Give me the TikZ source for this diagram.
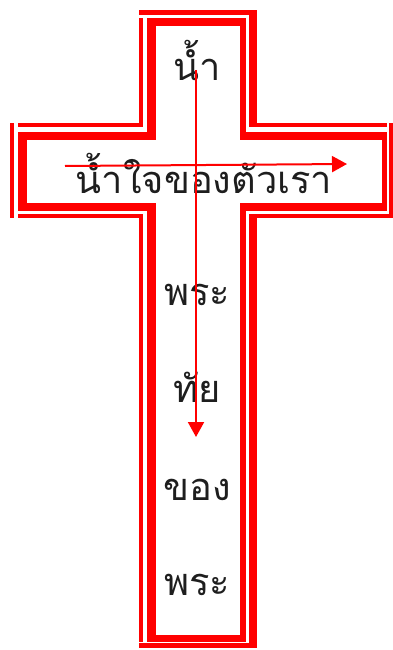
\documentclass[tikz,border=0pt]{standalone}
\usepackage{fontspec}
\newfontfamily\thaifont[Script=Thai]{Loma}
\usetikzlibrary{arrows.meta}
\definecolor{crossred}{HTML}{FF0000}
\definecolor{ink}{HTML}{1E1E1E}
\begin{document}
\begin{tikzpicture}[x=1pt,y=-1pt,
  bar/.style={fill=crossred},
  txt/.style={anchor=base,inner sep=0pt,text=ink,font=\thaifont\fontsize{38}{42}\selectfont},
  arr/.style={draw=crossred,line width=2pt,-{Triangle[length=15pt,width=16pt]}}]
\useasboundingbox (0,0) rectangle (392,650);
% ---- outer line (thin left/top/bottom, thick right) ----
\fill[bar] (139,10) rectangle (257,15);   % stem top
\fill[bar] (139,18) rectangle (143,127);  % stem left upper
\fill[bar] (18,123) rectangle (143,127);  % arm top left
\fill[bar] (10,123) rectangle (14,218);   % arm left
\fill[bar] (18,214) rectangle (143,218);  % arm bottom left
\fill[bar] (139,214) rectangle (143,642); % stem left lower
\fill[bar] (139,643) rectangle (257,648); % stem bottom
\fill[bar] (249,10) rectangle (257,127);  % stem right upper
\fill[bar] (249,123) rectangle (387,127); % arm top right
\fill[bar] (389,123) rectangle (397,218); % arm right
\fill[bar] (249,214) rectangle (397,218); % arm bottom right
\fill[bar] (249,214) rectangle (257,648); % stem right lower
% ---- inner line (thick left/top/bottom, thin right) ----
\fill[bar] (147,18) rectangle (246,26);   % stem top
\fill[bar] (147,18) rectangle (156,140);  % stem left upper
\fill[bar] (18,132) rectangle (156,140);  % arm top left
\fill[bar] (18,132) rectangle (27,211);   % arm left
\fill[bar] (18,203) rectangle (156,211);  % arm bottom left
\fill[bar] (147,203) rectangle (156,642); % stem left lower
\fill[bar] (147,635) rectangle (246,642); % stem bottom
\fill[bar] (240,18) rectangle (246,140);  % stem right upper
\fill[bar] (240,132) rectangle (387,140); % arm top right
\fill[bar] (382,132) rectangle (387,211); % arm right
\fill[bar] (240,203) rectangle (387,211); % arm bottom right
\fill[bar] (240,203) rectangle (246,640); % stem right lower
% ---- texts ----
\node[txt] (t1) at (197,81) {น้ำ};
\node[txt] (t2) at (204,193) {น้ำใจของตัวเรา};
\node[txt] (t3) at (197,305) {พระ};
\node[txt] (t4) at (197,402) {ทัย};
\node[txt] (t5) at (197,500) {ของ};
\node[txt] (t6) at (197,595) {พระ};
% ---- arrows ----
\coordinate (v1) at (196,70);
\coordinate (v2) at (196,437);
\coordinate (h1) at (65,166);
\coordinate (h2) at (347,164);
\draw[arr] (v1) -- (v2);
\draw[arr] (h1) -- (h2);
\end{tikzpicture}
\end{document}
